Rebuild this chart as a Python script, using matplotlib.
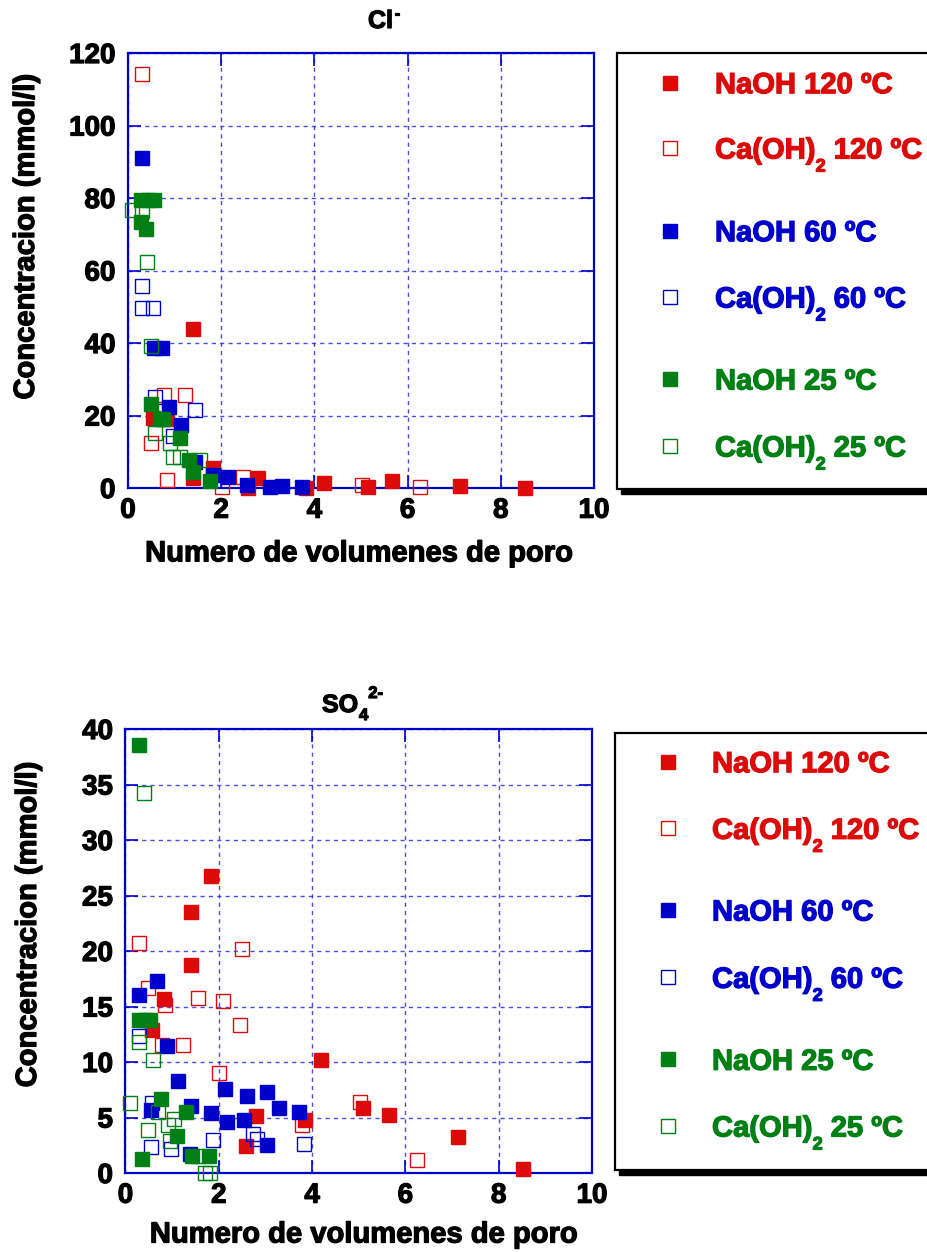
import matplotlib
matplotlib.use("Agg")
import matplotlib.pyplot as plt
import matplotlib.patheffects as pe
from matplotlib.patches import Rectangle
from matplotlib.lines import Line2D

plt.rcParams['font.family'] = ['Liberation Sans', 'DejaVu Sans']
plt.rcParams['font.weight'] = 'bold'

W, H = 928, 1252

# --- Cl- (mmol/l) frente a volumenes de poro ---
cl_naoh120_x = [0.54, 0.83, 1.40, 1.40, 1.82, 2.58, 2.80, 3.83, 4.21, 5.14, 5.66, 7.13, 8.53]
cl_naoh120_y = [19.4, 19.0, 43.9, 2.7, 5.4, 0.0, 2.7, 0.0, 1.3, 0.4, 1.9, 0.6, 0.1]
cl_caoh120_x = [0.30, 0.78, 1.23, 0.49, 0.83, 2.01, 2.47, 5.03, 6.27]
cl_caoh120_y = [114.3, 25.7, 25.7, 12.3, 2.2, 0.4, 3.1, 0.8, 0.4]
cl_naoh60_x = [0.30, 0.55, 0.72, 0.89, 1.13, 1.44, 1.83, 2.15, 2.55, 3.05, 3.30, 3.73]
cl_naoh60_y = [91.0, 38.5, 38.5, 22.3, 17.4, 7.1, 3.6, 3.1, 0.8, 0.4, 0.5, 0.4]
cl_caoh60_x = [0.31, 0.29, 0.54, 0.58, 1.44, 0.97]
cl_caoh60_y = [55.8, 49.7, 49.7, 25.2, 21.4, 14.4]
cl_naoh25_x = [0.27, 0.42, 0.56, 0.27, 0.38, 0.49, 0.69, 0.76, 1.12, 1.31, 1.40, 1.77]
cl_naoh25_y = [79.4, 79.4, 79.4, 73.5, 71.5, 23.3, 18.9, 18.9, 13.7, 7.7, 4.5, 2.0]
cl_caoh25_x = [0.08, 0.31, 0.40, 0.49, 0.58, 0.90, 0.97, 1.12, 1.55]
cl_caoh25_y = [76.7, 76.5, 62.4, 39.3, 15.3, 12.3, 8.6, 8.6, 7.7]

# --- SO4 2- (mmol/l) ---
so_naoh120_x = [1.83, 1.41, 1.41, 0.83, 0.56, 4.19, 5.10, 2.79, 3.85, 2.58, 5.65, 7.13, 8.52]
so_naoh120_y = [26.8, 23.5, 18.7, 15.7, 12.9, 10.2, 5.9, 5.1, 4.8, 2.4, 5.2, 3.2, 0.4]
so_caoh120_x = [0.29, 2.49, 0.48, 1.55, 0.85, 2.09, 2.46, 0.78, 1.23, 2.01, 5.03, 3.78, 6.25]
so_caoh120_y = [20.7, 20.2, 16.7, 15.8, 15.1, 15.5, 13.3, 11.5, 11.5, 9.0, 6.4, 4.3, 1.2]
so_naoh60_x = [0.67, 0.29, 0.88, 1.13, 2.14, 3.03, 2.60, 0.55, 1.40, 3.28, 1.83, 3.71, 2.53, 2.17, 3.04, 1.38]
so_naoh60_y = [17.3, 16.0, 11.4, 8.3, 7.6, 7.3, 6.9, 5.7, 6.0, 5.9, 5.4, 5.5, 4.8, 4.6, 2.5, 1.7]
so_caoh60_x = [0.29, 0.56, 1.88, 2.74, 2.81, 3.83, 0.54, 0.98]
so_caoh60_y = [12.3, 6.3, 3.0, 3.5, 3.1, 2.6, 2.3, 2.2]
so_naoh25_x = [0.28, 0.28, 0.42, 0.53, 0.76, 1.29, 1.11, 0.36, 1.43, 1.78]
so_naoh25_y = [38.6, 13.8, 13.8, 13.8, 6.7, 5.5, 3.3, 1.3, 1.5, 1.5]
so_caoh25_x = [0.40, 0.28, 0.58, 0.10, 0.69, 1.03, 0.92, 0.48, 0.96, 1.55, 1.71, 1.81]
so_caoh25_y = [34.2, 11.8, 10.2, 6.3, 5.5, 4.9, 4.3, 3.9, 2.9, 1.5, 0.0, 0.0]

# etiquetas de leyenda: (texto, subindice, resto)
labels = [('NaOH 120 ºC', '', ''), ('Ca(OH)', '2', ' 120 ºC'),
          ('NaOH 60 ºC', '', ''), ('Ca(OH)', '2', ' 60 ºC'),
          ('NaOH 25 ºC', '', ''), ('Ca(OH)', '2', ' 25 ºC')]
rojo, azul, verde = '#DD0A0A', '#0000CC', '#007F14'
colores = [rojo, rojo, azul, azul, verde, verde]
rellenos = [True, False, True, False, True, False]

cl_series = [(cl_naoh120_x, cl_naoh120_y), (cl_caoh120_x, cl_caoh120_y),
             (cl_naoh60_x, cl_naoh60_y), (cl_caoh60_x, cl_caoh60_y),
             (cl_naoh25_x, cl_naoh25_y), (cl_caoh25_x, cl_caoh25_y)]
so_series = [(so_naoh120_x, so_naoh120_y), (so_caoh120_x, so_caoh120_y),
             (so_naoh60_x, so_naoh60_y), (so_caoh60_x, so_caoh60_y),
             (so_naoh25_x, so_naoh25_y), (so_caoh25_x, so_caoh25_y)]

fig = plt.figure(figsize=(W / 100, H / 100), dpi=100)
renderer = fig.canvas.get_renderer()


def grueso(color):
    return [pe.withStroke(linewidth=0.9, foreground=color)]


def caja(left, top, right, bottom):
    return [left / W, 1 - bottom / H, (right - left) / W, (bottom - top) / H]


def fx(x):
    return x / W


def fy(y):
    return 1 - y / H


def texto_px(x, y, s, size, color='black', **kw):
    # texto en pixeles (origen arriba a la izquierda); devuelve el borde derecho
    t = fig.text(fx(x), fy(y), s, fontsize=size, fontweight='bold', color=color,
                 va='baseline', ha='left', path_effects=grueso(color), **kw)
    bb = t.get_window_extent(renderer)
    return x + bb.width


def dibujar(ax, series, ymax, ystep, lab_xy, xlab_xy):
    for (xs, ys), c, f in zip(series, colores, rellenos):
        ax.plot(xs, ys, 's', ms=10, mec=c, mew=1.0,
                mfc=c if f else 'none', clip_on=False, zorder=3)
    ax.set_xlim(0, 10)
    ax.set_ylim(0, ymax)
    ax.set_xticks(range(0, 11, 2))
    ax.set_yticks(range(0, ymax + 1, ystep))
    ax.grid(True, color='#2020DD', lw=1.0, ls=(0, (3, 3)), alpha=0.8)
    for s in ax.spines.values():
        s.set_color(azul)
        s.set_linewidth(1.6)
    ax.tick_params(direction='in', length=9.5, width=1.2, color=azul,
                   top=True, right=True, labelsize=20)
    ax.tick_params(axis='x', pad=7)
    ax.tick_params(axis='y', pad=9)
    for t in ax.get_xticklabels() + ax.get_yticklabels():
        t.set_fontweight('bold')
        t.set_path_effects(grueso('black'))
    xl = ax.set_xlabel('Numero de volumenes de poro', fontsize=21, fontweight='bold')
    xl.set_path_effects(grueso('black'))
    ax.xaxis.set_label_coords(*xlab_xy)
    yl = ax.set_ylabel('Concentracion (mmol/l)', fontsize=21, fontweight='bold', va='center')
    yl.set_path_effects(grueso('black'))
    ax.yaxis.set_label_coords(*lab_xy)


def leyenda(left, top, bottom, mark_x, text_x, rows_y):
    right = W + 20
    sombra = Rectangle((fx(left + 4), fy(bottom + 5)), fx(right) - fx(left),
                       fy(top) - fy(bottom), transform=fig.transFigure,
                       facecolor='black', edgecolor='black', zorder=1)
    marco = Rectangle((fx(left), fy(bottom)), fx(right) - fx(left),
                      fy(top) - fy(bottom), transform=fig.transFigure,
                      facecolor='white', edgecolor='black', lw=1.6, zorder=2)
    fig.add_artist(sombra)
    fig.add_artist(marco)
    for (a, sub, b), c, f, y in zip(labels, colores, rellenos, rows_y):
        fig.add_artist(Line2D([fx(mark_x)], [fy(y)], transform=fig.transFigure,
                              marker='s', ms=10, mec=c, mew=1.0,
                              mfc=c if f else 'none', zorder=3))
        base = y + 10.5
        xr = texto_px(text_x, base, a, 21, c, zorder=3)
        if sub:
            xr = texto_px(xr, base + 13, sub, 13, c, zorder=3)
            texto_px(xr, base, b, 21, c, zorder=3)


ax1 = fig.add_axes(caja(128, 53, 594, 488))
dibujar(ax1, cl_series, 120, 20, (-0.219, 0.577), (0.495, -0.118))
xr = texto_px(368, 28, 'Cl', 18)
texto_px(xr + 1, 18, '-', 12)
leyenda(617, 53, 489, 670, 715, [82.7, 148, 230.7, 297, 379, 446])

ax2 = fig.add_axes(caja(125.5, 729, 592, 1173))
dibujar(ax2, so_series, 40, 5, (-0.209, 0.559), (0.510, -0.107))
xr = texto_px(322, 712, 'SO', 18)
xs = texto_px(xr + 1, 720, '4', 12)
texto_px(xs, 698, '2-', 12)
leyenda(615, 733, 1170, 668, 712, [761.7, 828.3, 910, 977.3, 1059.3, 1126])

fig.savefig('out.png', dpi=100)
